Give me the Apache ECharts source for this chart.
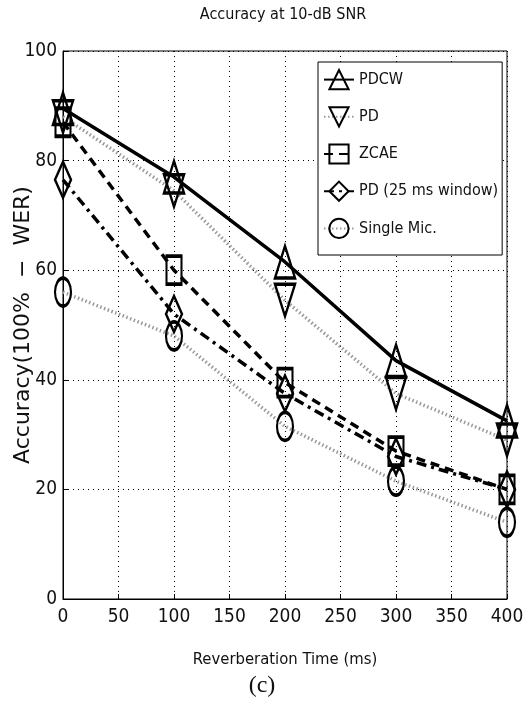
<!DOCTYPE html>
<html>
<head>
<meta charset="utf-8">
<script src="https://cdn.jsdelivr.net/npm/echarts@6/dist/echarts.min.js"></script>
<style>
  html, body { margin: 0; padding: 0; background: #fff; }
  #chart { width: 530px; height: 723px; }
</style>
</head>
<body>
<div id="chart"></div>
<script>
// reverberation times (ms)
const reverbTimes = [0, 100, 200, 300, 400];

const pdcw = [89.5, 77, 61.5, 43.5, 32.5];
const pd = [88, 74.5, 54.5, 37.5, 29];
const zcae = [87, 60, 39.5, 27, 20];
const pd25 = [76.5, 52, 37.5, 26, 20];
const singleMic = [56, 48, 31.5, 21.5, 14];

const xTicks = [0, 50, 100, 150, 200, 250, 300, 350, 400];
const yTicks = [0, 20, 40, 60, 80, 100];

const FONT = "'Liberation Sans Narrow', 'DejaVu Sans Condensed', 'Liberation Sans', sans-serif";

const chart = echarts.init(document.getElementById("chart"));

function pairs(vals) {
  return reverbTimes.map((x, i) => [x, vals[i]]);
}

function mkSeries(name, vals, symbol, size, lineStyle) {
  return {
    name,
    type: "line",
    data: pairs(vals),
    symbol,
    symbolSize: size,
    showAllSymbol: true,
    lineStyle: Object.assign({ color: "#000", width: 3.5 }, lineStyle),
    itemStyle: { color: "rgba(255,255,255,0)", borderColor: "#000", borderWidth: 2.8 },
    emphasis: { disabled: true },
    z: 3,
  };
}

chart.setOption({
  animation: false,
  backgroundColor: "#fff",
  grid: {
    left: 63, right: 23, top: 51, bottom: 124,
    outerBoundsMode: "none",
    show: true, borderColor: "#000", borderWidth: 1,
  },
  graphic: [
    {
      type: "text",
      x: 283, y: 15,
      style: { text: "Accuracy at 10-dB SNR", font: "16px " + FONT, fill: "#111", textAlign: "center", textVerticalAlign: "middle" },
    },
    {
      type: "text",
      x: 262, y: 686,
      style: { text: "(c)", font: "24px 'Liberation Serif', 'DejaVu Serif', serif", fill: "#111", textAlign: "center", textVerticalAlign: "middle" },
    },
  ],
  legend: {
    left: 318,
    top: 62,
    orient: "vertical",
    backgroundColor: "#fff",
    borderColor: "#000",
    borderWidth: 1,
    borderRadius: 0,
    padding: [7, 4, 16, 5],
    itemWidth: 30,
    itemHeight: 24,
    itemGap: 16,
    textStyle: { fontFamily: FONT, fontSize: 16, color: "#111" },
    data: ["PDCW", "PD", "ZCAE", "PD (25 ms window)", "Single Mic."],
  },
  xAxis: {
    type: "value",
    min: 0,
    max: 400,
    interval: 50,
    name: "Reverberation Time (ms)",
    nameLocation: "middle",
    nameGap: 52,
    nameMoveOverlap: false,
    nameTextStyle: { fontFamily: FONT, fontSize: 16.5, color: "#111" },
    axisLine: { lineStyle: { color: "#000", width: 1 } },
    axisTick: { inside: true, length: 5, lineStyle: { color: "#000" } },
    axisLabel: { fontFamily: FONT, fontSize: 19, color: "#111", margin: 9,
      formatter: (v) => (xTicks.includes(v) ? String(v) : "") },
    splitLine: { show: true, lineStyle: { color: "#000", type: [1, 4], width: 1 } },
  },
  yAxis: {
    type: "value",
    min: 0,
    max: 100,
    interval: 20,
    name: "Accuracy(100%  \u2212  WER)",
    nameLocation: "middle",
    nameGap: 29,
    nameMoveOverlap: false,
    nameRotate: 90,
    nameTextStyle: { fontFamily: "'DejaVu Sans', sans-serif", fontSize: 22, color: "#111" },
    axisLine: { lineStyle: { color: "#000", width: 1 } },
    axisTick: { inside: true, length: 5, lineStyle: { color: "#000" } },
    axisLabel: { fontFamily: FONT, fontSize: 19, color: "#111", margin: 6,
      formatter: (v) => (yTicks.includes(v) ? String(v) : "") },
    splitLine: { show: true, lineStyle: { color: "#000", type: [1, 4], width: 1 } },
  },
  series: [
    mkSeries("PDCW", pdcw, "triangle", [20, 32], { type: "solid", width: 3.5 }),
    mkSeries("PD", pd, "path://M0,0 L10,0 L5,10 Z", [20, 32], { color: "#999", type: [1.5, 2.5], width: 3.5 }),
    mkSeries("ZCAE", zcae, "rect", [15, 28], { type: [9, 6], width: 3.5 }),
    mkSeries("PD (25 ms window)", pd25, "diamond", [16, 36], { type: [10, 5, 3, 5], width: 3.5 }),
    mkSeries("Single Mic.", singleMic, "circle", [16, 28], { color: "#999", type: [1.5, 2.5], width: 3.5 }),
  ],
});
</script>
</body>
</html>
